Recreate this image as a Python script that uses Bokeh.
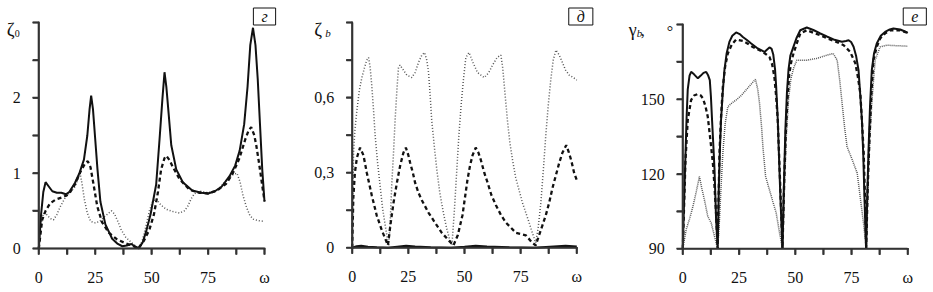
from bokeh.plotting import figure
from bokeh.models import Range1d, FixedTicker, Label, CustomJSTickFormatter, LinearAxis, BoxAnnotation
from bokeh.layouts import row
from bokeh.embed import file_html
from bokeh.resources import INLINE

# ---------------- data ----------------
# panel "г": zeta_0 vs omega
g_solid_x = [0, 1, 2, 3, 4.5, 6, 8, 10, 12, 13.5, 16, 18, 20, 21.5, 22.5, 23.2, 24, 25, 26, 27.3, 29.5, 32.5, 35, 37, 39, 41, 42.5, 44.3,
             46, 47.5, 49.5, 52, 53.5, 54.8, 55.7, 56.5, 57.5, 58.7, 60.9, 63.8, 68, 72, 75, 78, 81, 84.5, 87, 89, 91, 92.5, 93.7, 94.9, 96, 97, 98, 99, 100]
g_solid_y = [0, 0.45, 0.75, 0.88, 0.82, 0.76, 0.74, 0.74, 0.72, 0.75, 0.87, 1.0, 1.18, 1.5, 1.85, 2.03, 1.85, 1.45, 1.05, 0.62, 0.32, 0.13, 0.06, 0.03, 0.04, 0.06, 0.03, 0.0,
             0.08, 0.22, 0.45, 0.85, 1.45, 2.0, 2.34, 2.15, 1.8, 1.37, 1.05, 0.88, 0.77, 0.74, 0.73, 0.76, 0.82, 0.96, 1.1, 1.3, 1.65, 2.15, 2.7, 2.93, 2.7, 2.25, 1.65, 1.05, 0.62]
g_dash_x = [0, 1.5, 3, 5, 7.5, 10.5, 13.3, 16, 18.5, 20.5, 21.7, 22.9, 24.2, 25.9, 28, 31, 34.7, 38.4, 42, 44, 46.5, 49, 51, 52.8, 54.2, 55.7, 56.5, 58,
            59.4, 62.4, 66.8, 71, 75, 79, 83, 86, 88.9, 91.5, 93, 94.1, 95.5, 96.4, 97.5, 98.6, 100]
g_dash_y = [0, 0.38, 0.5, 0.6, 0.65, 0.68, 0.72, 0.85, 1.02, 1.13, 1.16, 1.08, 0.86, 0.56, 0.35, 0.21, 0.12, 0.07, 0.03, 0.0, 0.1, 0.25, 0.45, 0.75, 1.05, 1.2, 1.23, 1.17,
            1.08, 0.92, 0.78, 0.74, 0.73, 0.77, 0.86, 1.0, 1.2, 1.45, 1.57, 1.61, 1.5, 1.36, 1.15, 0.92, 0.63]
g_dot_x = [0, 1, 2, 3.5, 5, 6.5, 8, 9.6, 11.8, 14, 16, 17.5, 18.3, 19.2, 20.2, 21.5, 23, 25, 27, 29, 31, 32.2, 33.5, 35, 36.5, 38.5, 41, 43, 44.5,
           46, 47.5, 49, 50.5, 52, 54, 56.5, 59.5, 62.3, 64.5, 66, 67.5, 69, 71.5, 75, 79, 83, 86, 87.8, 89.2, 90.5, 92, 93.5, 95, 97, 100]
g_dot_y = [0, 0.32, 0.47, 0.45, 0.40, 0.38, 0.45, 0.56, 0.68, 0.75, 0.82, 0.93, 1.0, 0.85, 0.65, 0.47, 0.36, 0.34, 0.36, 0.42, 0.47, 0.5, 0.46, 0.36, 0.25, 0.15, 0.08, 0.03, 0.0,
           0.12, 0.3, 0.5, 0.63, 0.66, 0.58, 0.52, 0.49, 0.47, 0.5, 0.56, 0.66, 0.73, 0.76, 0.74, 0.77, 0.9, 0.98, 1.0, 0.88, 0.70, 0.55, 0.44, 0.39, 0.37, 0.36]

# panel "д": zeta_b vs omega
d_solid_x = [0, 2, 4, 7, 11, 16, 20, 24, 28, 35, 44, 50, 55, 60, 70, 81, 88, 95, 100]
d_solid_y = [0, 0.006, 0.008, 0.004, 0.002, 0, 0.004, 0.008, 0.005, 0.002, 0, 0.004, 0.008, 0.005, 0.002, 0, 0.004, 0.008, 0.005]
d_dash_x = [0, 0.5, 1.2, 2.1, 3.5, 5.0, 6.5, 8.7, 10.9, 13.2, 15.0, 15.9, 17.0, 18.4, 19.9, 21.4, 22.8, 23.9, 25.0, 25.8, 27.0, 28.0, 29.5, 31.0, 34.0,
            36.9, 39.9, 42.9, 45.1, 47.0, 49.1, 50.2, 51.3, 52.5, 53.6, 55.0, 56.2, 57.3, 58.8, 60.3, 62.0, 64.0, 66.3, 68.5, 72.9, 77.3, 80.2, 81.7,
            83.2, 84.7, 86.2, 87.7, 89.2, 90.7, 92.2, 93.6, 95.3, 96.5, 97.5, 98.8, 100]
d_dash_y = [0, 0.2, 0.3, 0.36, 0.40, 0.37, 0.30, 0.21, 0.13, 0.07, 0.03, 0.01, 0.09, 0.18, 0.26, 0.33, 0.38, 0.40, 0.37, 0.34, 0.30, 0.26, 0.22, 0.19, 0.14,
            0.10, 0.06, 0.03, 0.01, 0.05, 0.13, 0.2, 0.27, 0.33, 0.37, 0.40, 0.38, 0.35, 0.30, 0.26, 0.21, 0.17, 0.13, 0.10, 0.06, 0.05, 0.02, 0.01,
            0.05, 0.09, 0.13, 0.18, 0.24, 0.29, 0.34, 0.38, 0.41, 0.38, 0.35, 0.30, 0.27]
d_dot_x = [0, 0.6, 1.2, 2.1, 3.2, 4.3, 5.5, 6.5, 7.3, 8.0, 8.7, 9.5, 10.2, 11.3, 12.4, 13.5, 14.7, 15.6, 16.3, 17.0, 17.6, 18.4, 19.1, 19.9, 20.6, 21.3,
           22.8, 24.3, 26.5, 28.0, 29.5, 31.0, 32.2, 33.2, 34.0, 34.7, 35.4, 36.5, 37.7, 39.0, 40.6, 42.0, 43.2, 44.4, 45.5, 46.5, 47.5, 48.5, 49.5,
           50.6, 52.0, 53.8, 55.8, 58.8, 60.8, 62.5, 64.5, 66.2, 67.0, 67.7, 69.1, 70.2, 71.4, 72.8, 74.3, 75.8, 77.3, 78.8, 80.2, 81.7, 82.8, 84.0,
           85.1, 86.2, 87.3, 88.4, 89.5, 90.7, 92.2, 93.6, 95.0, 96.6, 98.5, 100]
d_dot_y = [0, 0.38, 0.47, 0.55, 0.63, 0.68, 0.72, 0.75, 0.76, 0.72, 0.65, 0.55, 0.45, 0.34, 0.25, 0.16, 0.09, 0.04, 0.01, 0.12, 0.25, 0.38, 0.51, 0.63, 0.72, 0.73,
           0.71, 0.69, 0.68, 0.70, 0.74, 0.77, 0.78, 0.75, 0.70, 0.61, 0.51, 0.41, 0.31, 0.22, 0.14, 0.08, 0.04, 0.01, 0.15, 0.3, 0.45, 0.57, 0.67,
           0.76, 0.78, 0.74, 0.70, 0.68, 0.70, 0.73, 0.76, 0.77, 0.72, 0.65, 0.51, 0.42, 0.35, 0.28, 0.23, 0.18, 0.14, 0.10, 0.06, 0.02, 0.08, 0.18,
           0.31, 0.45, 0.57, 0.67, 0.75, 0.79, 0.77, 0.74, 0.71, 0.69, 0.68, 0.67]

# panel "е": gamma_b (degrees) vs omega
e_solid_x = [0, 0.6, 1.2, 1.7, 2.2, 3.0, 3.7, 5.0, 6.7, 8.0, 9.2, 10.4, 11.3, 12.0, 12.5, 13.0, 13.6, 14.1, 14.8, 15.5, 15.8, 16.0, 16.5, 17.0, 17.7,
             18.5, 19.5, 20.7, 22.0, 23.7, 25.5, 26.7, 28.5, 30.4, 33.3, 36.3, 37.5, 38.5, 39.5, 40.2, 41.0, 41.5, 42.2, 42.7, 43.4, 44.3, 45.0,
             45.6, 46.3, 47.0, 47.8, 49.2, 50.5, 52.2, 55.1, 58, 61.1, 64, 67.0, 70.7, 72.5, 73.7, 74.8, 75.9, 77, 78.1, 79.0, 79.6, 80.2, 80.6,
             81.0, 81.5, 81.9, 82.5, 83.2, 84.0, 85.0, 86.2, 88, 89.9, 92, 93.6, 96.6, 98.5, 100]
e_solid_y = [90, 110, 128, 143, 154, 159.5, 161, 160, 158.4, 159.5, 160.6, 161, 159.5, 157.7, 151, 141.7, 131, 121.7, 101.7, 90, 104, 115, 130, 141.7, 152,
             161.7, 168.5, 173, 175.5, 176.8, 176, 175, 173.8, 172.4, 170.4, 169, 170, 170.8, 170.2, 168, 162, 155, 142, 128.4, 110, 90, 118,
             138, 153, 162, 167.5, 171.1, 174.5, 177.7, 178.8, 177.8, 176.4, 175.2, 174, 173.1, 173.4, 173.7, 173, 171.1, 167.5, 161.7, 150, 141.7, 128, 115,
             103, 90, 108, 128.4, 147, 161.7, 168.5, 172.4, 175.5, 177, 178, 178.4, 178, 177.3, 176.6]
e_dash_x = [0, 0.6, 1.2, 2.2, 3.7, 5.0, 6.7, 8.0, 8.9, 10.0, 11.1, 12.6, 13.4, 14.1, 14.8, 15.5, 15.9, 16.3, 17.0, 17.8, 18.8, 20.0, 21.8, 23.7,
            26.7, 28.9, 31.1, 35.6, 38.5, 39.7, 40.7, 41.5, 42.2, 43.2, 44.3, 45.0, 45.7, 46.5, 47.3, 48.2, 49.2, 50.7, 52.2, 55.1, 58, 61.1, 64,
            67.0, 71.5, 74.4, 76.7, 77.8, 78.9, 79.7, 80.4, 81.0, 81.5, 82.2, 83.0, 83.8, 84.7, 86.2, 87.7, 90, 92.2, 96.6, 100]
e_dash_y = [90, 108, 125.7, 141.7, 149.7, 151.5, 152.1, 151.5, 150.4, 147.5, 143, 131, 124, 115, 104, 90, 110, 128.4, 143, 155, 163, 168.4, 172, 174,
            173.4, 172.3, 171, 169, 167, 164, 159, 151, 141.7, 118, 90, 115, 135, 150, 160, 165, 168.4, 172.5, 176.4, 177.7, 176.7, 175.7, 174.5,
            173.5, 171.7, 169, 164.4, 159, 152.4, 140, 128.4, 110, 90, 115, 135, 152, 165.7, 171, 174.4, 176.5, 177.7, 177.7, 176.6]
e_dot_x = [0, 1.5, 3.0, 4.5, 6.0, 7.4, 8.5, 9.6, 11.1, 12.6, 14.1, 15.5, 16.3, 17.0, 17.8, 18.8, 20.0, 21.8, 23.7, 26, 28.1, 30.3, 32.3, 33.3, 34.1,
           35.0, 35.6, 36.8, 38.5, 40.0, 41.5, 43.0, 44.3, 45.2, 46.0, 47.0, 48.0, 49.2, 50.7, 55.1, 59.6, 64.1, 66.8, 68.6, 69.7, 70.8, 72, 73.0,
           75.3, 77.5, 79.0, 80.5, 81.5, 82.5, 83.3, 84.0, 84.8, 85.5, 87.7, 90.7, 95, 100]
e_dot_y = [90, 97.7, 102, 107, 113, 119, 114, 109.7, 103, 100.4, 95, 90, 101.7, 115, 128.4, 140, 147, 148.5, 149.7, 151.5, 153.7, 156, 158, 154, 148.4,
           139, 131, 119, 113.7, 109, 104.4, 96.4, 90, 115, 135, 150, 158, 162.4, 165.7, 165.7, 166.4, 167.7, 168.4, 165.7, 158, 148.4, 138, 131,
           125.7, 120.4, 109.7, 99, 90, 121.7, 137, 148.4, 158, 165.7, 171, 171.7, 171.5, 171.3]

# ticks and labels
x_ticks = [0, 25, 50, 75, 100]
x_minor = [12.5, 37.5, 62.5, 87.5]
x_labels = ["0", "25", "50", "75", "ω"]

g_yticks = [0, 1, 2, 3]
g_yminor = [0.5, 1.5, 2.5]
g_ylabels = ["0", "1", "2", ""]
d_yticks = [0, 0.3, 0.6, 0.9]
d_yminor = [0.15, 0.45, 0.75]
d_ylabels = ["0", "0,3", "0,6", ""]
e_yticks = [90, 120, 150, 180]
e_yminor = [105, 135, 165]
e_ylabels = ["90", "120", "150", ""]

panel_tags = ["г", "д", "е"]

SERIF = "Liberation Serif"
AXC = "#333333"
FIG_H = 290
TICK_PX = 6
RULE_PX = 1.6

FMT_CODE = """
for (let i = 0; i < tvals.length; i++) {
  if (Math.abs(tvals[i] - tick) < 1e-9) return tlabels[i];
}
return '';
"""


def span(d0, d1, p0, p1, size):
    # data d0 sits at pixel p0 and d1 at pixel p1 of a canvas that is `size` px long
    k = (d1 - d0) / (p1 - p0)
    return d0 - p0 * k, d0 + (size - p0) * k, k


def add_bar(p, l, r, b, t):
    p.add_layout(BoxAnnotation(left=l, right=r, bottom=b, top=t,
                               fill_color=AXC, fill_alpha=1.0, line_color=None, level="overlay"))


def make_panel(fig_w, box, ymin, ymax, yticks, yminor, ylabels):
    left, right, top, bottom = box
    x0, x1, kx = span(0, 100, left, right, fig_w)
    y0, y1, ky = span(ymin, ymax, FIG_H - bottom, FIG_H - top, FIG_H)
    p = figure(frame_width=fig_w, frame_height=FIG_H,
               x_range=Range1d(x0, x1), y_range=Range1d(y0, y1),
               x_axis_location=None, y_axis_location=None,
               output_backend="svg", toolbar_location=None,
               min_border=0, min_border_left=0, min_border_right=0,
               min_border_top=0, min_border_bottom=0)
    p.outline_line_color = None
    p.grid.visible = False
    p.background_fill_color = "white"
    p.border_fill_color = "white"

    xa = LinearAxis(fixed_location=ymin, bounds=(0, 100),
                    ticker=FixedTicker(ticks=x_ticks, minor_ticks=x_minor),
                    formatter=CustomJSTickFormatter(args=dict(tvals=x_ticks, tlabels=x_labels), code=FMT_CODE))
    ya = LinearAxis(fixed_location=0, bounds=(ymin, ymax),
                    ticker=FixedTicker(ticks=yticks, minor_ticks=yminor),
                    formatter=CustomJSTickFormatter(args=dict(tvals=yticks, tlabels=ylabels), code=FMT_CODE))
    for ax in (xa, ya):
        props = ax.properties()
        for name in ("background_fill_color", "major_label_background_fill_color"):
            if name in props:
                setattr(ax, name, None)
        ax.axis_line_color = AXC
        ax.axis_line_width = RULE_PX
        ax.major_tick_line_color = AXC
        ax.minor_tick_line_color = AXC
        ax.major_tick_line_width = RULE_PX
        ax.minor_tick_line_width = RULE_PX
        ax.major_tick_out = TICK_PX
        ax.major_tick_in = 0
        ax.minor_tick_out = TICK_PX
        ax.minor_tick_in = 0
        ax.major_label_text_font = SERIF
        ax.major_label_text_font_size = "16px"
        ax.major_label_text_color = "#111111"
    xa.major_label_standoff = 14
    ya.major_label_standoff = 12
    p.add_layout(xa, "below")
    p.add_layout(ya, "left")

    # axis rules and tick marks as thin filled bars on the same scales
    hx = RULE_PX / 2 * kx
    hy = RULE_PX / 2 * ky
    all_x = sorted(x_ticks + x_minor)
    all_y = sorted(yticks + yminor)
    p.quad(left=[-hx, -hx], right=[100 + hx, hx], bottom=[ymin - hy, ymin - hy], top=[ymin + hy, ymax + hy],
           fill_color=AXC, line_color=None, level="overlay")
    p.quad(left=[t - hx for t in all_x], right=[t + hx for t in all_x],
           bottom=[ymin - TICK_PX * ky] * len(all_x), top=[ymin] * len(all_x),
           fill_color=AXC, line_color=None, level="overlay")
    p.quad(left=[-TICK_PX * kx] * len(all_y), right=[0] * len(all_y),
           bottom=[t - hy for t in all_y], top=[t + hy for t in all_y],
           fill_color=AXC, line_color=None, level="overlay")
    add_bar(p, -hx, 100 + hx, ymin - hy, ymin + hy)
    add_bar(p, -hx, hx, ymin - hy, ymax + hy)
    for t in all_x:
        add_bar(p, t - hx, t + hx, ymin - TICK_PX * ky, ymin)
    for t in all_y:
        add_bar(p, -TICK_PX * kx, 0, t - hy, t + hy)
    return p


def add_lines(p, sx, sy, dx, dy, tx, ty, dot_dash="1 2"):
    p.line(tx, ty, line_color="#555555", line_width=1.5, line_dash=dot_dash)
    p.line(dx, dy, line_color="#111111", line_width=2.3, line_dash="4 3")
    p.line(sx, sy, line_color="#111111", line_width=2.0)


def add_text(p, ytop, text, xo, yo, size, style="normal"):
    # anchored at the top of the y axis, offsets in pixels
    p.add_layout(Label(x=0, y=ytop, x_offset=xo, y_offset=yo, text=text,
                       text_font=SERIF, text_font_size=size, text_font_style=style,
                       text_align="left", text_baseline="alphabetic", text_color="#111111"))


def add_tag(p, ytop, text, xo, yo):
    p.add_layout(Label(x=100, y=ytop, x_offset=xo, y_offset=yo, text=text,
                       text_font=SERIF, text_font_size="16px", text_font_style="italic",
                       text_align="center", text_baseline="middle", text_color="#111111",
                       background_fill_color="white", border_line_color="#111111",
                       border_line_width=1, padding=(8, 0)))


# panel г  (page x 1..309)
p1 = make_panel(308, (38.3, 264.0, 22.0, 248.0), 0, 3, g_yticks, g_yminor, g_ylabels)
add_lines(p1, g_solid_x, g_solid_y, g_dash_x, g_dash_y, g_dot_x, g_dot_y)
add_text(p1, 3, "ζ", -32, -7, "19px")
add_text(p1, 3, "0", -24, -10.5, "10px")
add_tag(p1, 3, panel_tags[0], 0, 6)

# panel д  (page x 309..620)
p2 = make_panel(311, (43.7, 268.3, 22.0, 247.3), 0, 0.9, d_yticks, d_yminor, d_ylabels)
add_lines(p2, d_solid_x, d_solid_y, d_dash_x, d_dash_y, d_dot_x, d_dot_y)
add_text(p2, 0.9, "ζ", -38, -7, "19px")
add_text(p2, 0.9, "b", -27, -10, "11px", style="italic")
add_tag(p2, 0.9, panel_tags[1], 4, 6)

# panel е  (page x 620..932)
p3 = make_panel(312, (63.3, 288.3, 24.0, 248.3), 90, 180, e_yticks, e_yminor, e_ylabels)
add_lines(p3, e_solid_x, e_solid_y, e_dash_x, e_dash_y, e_dot_x, e_dot_y, dot_dash="1 1")
add_text(p3, 180, "γ", -54, -5, "18px")
add_text(p3, 180, "b", -46, -8, "11px", style="italic")
add_text(p3, 180, ",", -42, -6, "16px")
add_text(p3, 180, "°", -16, -7, "16px")
add_tag(p3, 180, panel_tags[2], 7, 8)

layout = row(p1, p2, p3)
open("out.html", "w").write(file_html(layout, INLINE))
